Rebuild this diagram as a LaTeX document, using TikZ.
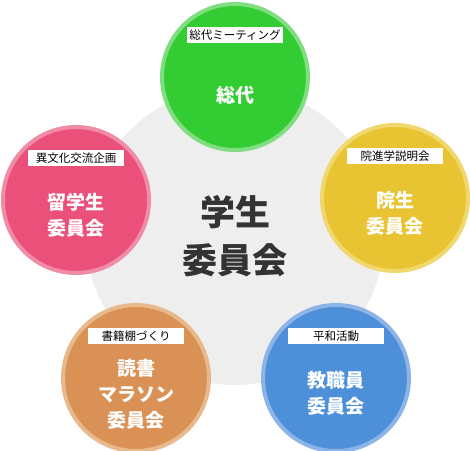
\documentclass[tikz,border=0pt]{standalone}
\usepackage{fontspec}
\newfontfamily\jpfont{Noto Sans CJK JP}
\usetikzlibrary{positioning}

\definecolor{hubgray}{HTML}{EEEEEE}
\definecolor{hubtext}{HTML}{333333}
\definecolor{grfill}{HTML}{33CC33}
\definecolor{grring}{HTML}{80DD80}
\definecolor{pkfill}{HTML}{EA507A}
\definecolor{pkring}{HTML}{F08CA5}
\definecolor{ylfill}{HTML}{E8C332}
\definecolor{ylring}{HTML}{F0D86E}
\definecolor{orfill}{HTML}{D99155}
\definecolor{orring}{HTML}{E8B98C}
\definecolor{blfill}{HTML}{4D8FD9}
\definecolor{blring}{HTML}{8CB4E6}

\begin{document}
\begin{tikzpicture}[x=1pt,y=1pt,
  hub/.style={circle,fill=hubgray,minimum size=298pt,inner sep=0pt},
  club/.style={circle,line width=4pt,minimum size=146pt,inner sep=0pt},
  tag/.style={fill=white,minimum width=96pt,minimum height=16pt,inner sep=0pt,
    font=\jpfont\fontsize{11.5}{12}\selectfont},
  title/.style={text=white,align=center,
    font=\jpfont\bfseries\fontsize{19}{26}\selectfont}
]
\useasboundingbox (0,0) rectangle (470,450);

% council in the middle
\node[hub] (council) at (235,214) {};
\node[text=hubtext,align=center,font=\jpfont\bfseries\fontsize{35}{48}\selectfont]
  at (council.center) {学生\\委員会};

% the five committees
\node[club,fill=grfill,draw=grring] (sodai) at (235,373) {};
\node[club,fill=pkfill,draw=pkring] (ryugaku) at (76,250) {};
\node[club,fill=ylfill,draw=ylring] (insei) at (395,252) {};
\node[club,fill=orfill,draw=orring] (dokusho) at (136,72) {};
\node[club,fill=blfill,draw=blring] (kyoshoku) at (336,72) {};

\node[tag,above=34pt of sodai.center] (sodaitag) {総代ミーティング};
\node[tag,above=34pt of ryugaku.center] (ryugakutag) {異文化交流企画};
\node[tag,above=34pt of insei.center] (inseitag) {院進学説明会};
\node[tag,above=34pt of dokusho.center] (dokushotag) {書籍棚づくり};
\node[tag,above=34pt of kyoshoku.center] (kyoshokutag) {平和活動};

\node[title] at ([yshift=-18pt]sodai.center) {総代};
\node[title] at ([yshift=-15pt]ryugaku.center) {留学生\\委員会};
\node[title] at ([yshift=-15pt]insei.center) {院生\\委員会};
\node[title] at ([yshift=-16pt]dokusho.center) {読書\\マラソン\\委員会};
\node[title] at ([yshift=-15pt]kyoshoku.center) {教職員\\委員会};
\end{tikzpicture}
\end{document}
